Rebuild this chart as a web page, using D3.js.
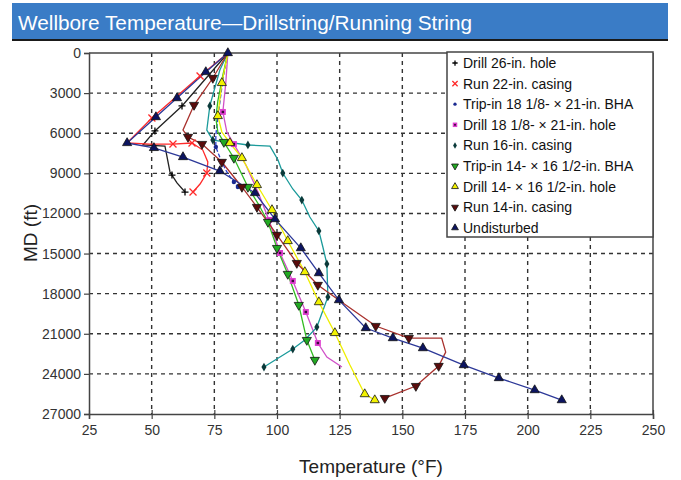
<!DOCTYPE html>
<html><head><meta charset="utf-8">
<script src="https://cdn.jsdelivr.net/npm/d3@7"></script>
<style>
body{margin:0;background:#fff;}
svg{display:block;font-family:"Liberation Sans",Arial,sans-serif;}
</style></head>
<body><svg id="c" width="681" height="480"></svg>
<script>
const xTicks=[25,50,75,100,125,150,175,200,225,250];
const yTicks=[0,3000,6000,9000,12000,15000,18000,21000,24000,27000];

const names=["Drill 26-in. hole","Run 22-in. casing","Trip-in 18 1/8- \u00d7 21-in. BHA","Drill 18 1/8- \u00d7 21-in. hole","Run 16-in. casing","Trip-in 14- \u00d7 16 1/2-in. BHA","Drill 14- \u00d7 16 1/2-in. hole","Run 14-in. casing","Undisturbed"];

const drill26T=[80.4,62.1,51.3,46.5,55.3,57.3,58.1,60.1,63.3];
const drill26D=[0,3960,5830,6880,6960,8900,9130,9720,10400];
const drill26Marked=[1,2,6,8];

const run22T=[80.4,69.3,50.1,40.2,49.3,58.5,66.1,70.4,72.4,72.0,69.3,66.5];
const run22D=[0,1720,4860,6730,6810,6810,6730,7260,8150,8980,9800,10400];
const run22Marked=[1,2,5,6,9,11];

const trip18T=[80.4,78.4,76.8,75.6,75.6,77.6,80.0,82.8,84.4];
const trip18D=[0,2000,4260,6130,7030,8000,8900,9650,10020];
const trip18Marked=[4,7,8];

const drill18T=[80.4,79.6,78.4,80.0,82.8,87.6,92.4,96.8,101.2,106.3,111.5,116.3,119.9,125.9];
const drill18D=[0,2170,4410,5910,6810,8380,10400,12490,14960,17050,19370,21690,22740,23490];
const drill18Marked=[2,4,7,8,9,10,11];

const run16T=[80.4,77.2,73.2,72.0,74.4,88.4,97.2,100.4,102.3,106.3,109.9,113.1,116.7,118.3,119.9,120.3,115.9,111.1,106.3,94.8];
const run16D=[0,1270,3960,5760,6510,6880,6960,8000,8980,10170,11000,12270,13310,14510,15780,18250,20500,21470,22140,23490];
const run16Marked=[2,4,5,8,10,12,14,15,16,18,19];

const trip14T=[80.4,78.4,76.4,75.6,76.4,78.8,82.8,88.4,92.8,96.4,100.0,104.3,108.7,111.9,115.1];
const trip14D=[0,1650,3590,4860,5910,6660,7850,10020,11370,12640,14590,16530,18850,21470,22960];
const trip14Marked=[5,6,7,9,10,11,12,13,14];

const drill14T=[80.4,78.0,76.4,78.0,81.2,86.0,92.0,98.0,104.3,111.1,116.7,123.1,129.1,135.0,139.0];
const drill14D=[0,2240,4710,5910,6730,7850,9870,11740,14060,16380,18630,20940,23340,25510,25960];
const drill14Marked=[1,2,4,5,6,7,8,9,10,11,13,14];

const run14T=[80.4,74.4,66.9,62.5,64.5,70.1,78.0,86.0,92.0,100.0,107.9,116.3,126.3,139.4,152.6,165.7,167.3,164.5,155.4,143.0];
const run14D=[0,1870,3890,5760,6280,6810,8150,10020,11520,13610,15710,17350,18700,20420,21320,21320,22370,23410,24910,25810];
const run14Marked=[1,2,4,5,6,7,8,9,10,11,13,14,17,18,19];

const undistT=[80.4,71.6,60.1,51.7,40.2,50.9,62.5,77.2,91.2,99.2,109.5,116.7,124.7,135.4,146.2,158.2,174.5,188.5,202.8,213.6];
const undistD=[0,1420,3370,4790,6730,7100,7780,8830,10470,12420,14590,16460,18480,20570,21320,22070,23340,24310,25210,25960];
const undistMarked=[0,1,2,3,4,5,6,7,8,9,10,11,12,13,14,15,16,17,18,19];

const seriesT=[drill26T,run22T,trip18T,drill18T,run16T,trip14T,drill14T,run14T,undistT];
const seriesD=[drill26D,run22D,trip18D,drill18D,run16D,trip14D,drill14D,run14D,undistD];
const seriesM=[drill26Marked,run22Marked,trip18Marked,drill18Marked,run16Marked,trip14Marked,drill14Marked,run14Marked,undistMarked];

const lineColors=["#222222","#ff2a2a","#2a3fd0","#d050c8","#1a9a9a","#33bb22","#eeee00","#a8302c","#2c3898"];
const markerKinds=["plus","cross","dot","square","diamond","tridown","triup","tridown","triup"];
const markerFill=["#000","#ff2a2a","#1a2a90","#e040d0","#0b3a3a","#22aa22","#f2f200","#5a0c0c","#0c1460"];
const dashes=[null,null,"4,2",null,null,null,null,null,null];

const svg=d3.select("#c");
// title bar
svg.append("rect").attr("x",12).attr("y",3).attr("width",656).attr("height",37).attr("fill","#3a7cc6");
svg.append("rect").attr("x",12).attr("y",39).attr("width",656).attr("height",2).attr("fill","#1a1a1a");
svg.append("text").attr("x",18).attr("y",30).attr("fill","#fff")
  .style("font-family","'Liberation Sans Narrow','Liberation Sans',Arial,sans-serif")
  .attr("font-size",21).attr("textLength",454).attr("lengthAdjust","spacingAndGlyphs")
  .text("Wellbore Temperature\u2014Drillstring/Running String");

const L=89,R=653,T=53,B=414;
const x=d3.scaleLinear().domain([25,250]).range([L,R]);
const y=d3.scaleLinear().domain([0,27000]).range([T,B]);

// grid
const g=svg.append("g");
g.selectAll(".gx").data(xTicks.slice(1,-1)).join("line")
 .attr("x1",d=>x(d)).attr("x2",d=>x(d)).attr("y1",T).attr("y2",B)
 .attr("stroke","#333").attr("stroke-width",1.4).attr("stroke-dasharray","4,4");
g.selectAll(".gy").data(yTicks.slice(1,-1)).join("line")
 .attr("x1",L).attr("x2",R).attr("y1",d=>y(d)).attr("y2",d=>y(d))
 .attr("stroke","#333").attr("stroke-width",1.4).attr("stroke-dasharray","4,4");

// frame
svg.append("line").attr("x1",L).attr("x2",R).attr("y1",T).attr("y2",T).attr("stroke","#444").attr("stroke-width",1.5);
svg.append("line").attr("x1",R).attr("x2",R).attr("y1",T).attr("y2",B).attr("stroke","#444").attr("stroke-width",1.5);

const ax=svg.append("g").attr("transform",`translate(0,${B})`)
 .call(d3.axisBottom(x).tickValues(xTicks).tickSize(5).tickPadding(6).tickFormat(d3.format("d")));
const ay=svg.append("g").attr("transform",`translate(${L},0)`)
 .call(d3.axisLeft(y).tickValues(yTicks).tickSize(5).tickPadding(3).tickFormat(d3.format("d")));
[ax,ay].forEach(a=>{
  a.select(".domain").attr("stroke","#444").attr("stroke-width",1.5);
  a.selectAll(".tick line").attr("stroke","#444").attr("stroke-width",1.2);
  a.selectAll("text").attr("fill","#333").attr("font-size",14).style("font-family","'Liberation Sans',Arial,sans-serif");
});
ax.selectAll(".tick line").attr("y1",-4);

// axis titles
svg.append("text").attr("x",371).attr("y",473).attr("text-anchor","middle").attr("font-size",19).attr("fill","#222").text("Temperature (\u00b0F)");
svg.append("text").attr("transform","translate(37,233) rotate(-90)").attr("text-anchor","middle").attr("font-size",19).attr("fill","#222").text("MD (ft)");

function drawMarker(sel,kind,fill,cx,cy,scale){
  const s=scale||1;
  if(kind==="plus"){
    sel.append("path").attr("d",`M${cx-3.5*s},${cy}h${7*s}M${cx},${cy-3.5*s}v${7*s}`).attr("stroke",fill).attr("stroke-width",1.3);
  } else if(kind==="cross"){
    sel.append("path").attr("d",`M${cx-3.5*s},${cy-3.5*s}l${7*s},${7*s}M${cx-3.5*s},${cy+3.5*s}l${7*s},${-7*s}`).attr("stroke",fill).attr("stroke-width",1.3);
  } else if(kind==="dot"){
    sel.append("circle").attr("cx",cx).attr("cy",cy).attr("r",2.2*s).attr("fill",fill);
  } else if(kind==="square"){
    sel.append("rect").attr("x",cx-3*s).attr("y",cy-3*s).attr("width",6*s).attr("height",6*s).attr("fill",fill);
    sel.append("rect").attr("x",cx-1.2*s).attr("y",cy-1.2*s).attr("width",2.4*s).attr("height",2.4*s).attr("fill","#3a0a3a");
  } else if(kind==="diamond"){
    sel.append("path").attr("d",d3.symbol(d3.symbolDiamond,22*s*s)()).attr("transform",`translate(${cx},${cy})`).attr("fill",fill);
  } else if(kind==="triup"){
    sel.append("path").attr("d",d3.symbol(d3.symbolTriangle,36*s*s)()).attr("transform",`translate(${cx},${cy})`).attr("fill",fill).attr("stroke","#111").attr("stroke-width",0.8);
  } else if(kind==="tridown"){
    sel.append("path").attr("d",d3.symbol(d3.symbolTriangle,36*s*s)()).attr("transform",`translate(${cx},${cy}) rotate(180)`).attr("fill",fill).attr("stroke","#111").attr("stroke-width",0.8);
  }
}

const line=d3.line().x(d=>x(d[0])).y(d=>y(d[1]));
const plot=svg.append("g");
seriesT.forEach((ts,i)=>{
  const pts=ts.map((t,j)=>[t,seriesD[i][j]]);
  const p=plot.append("path").datum(pts).attr("d",line).attr("fill","none")
    .attr("stroke",lineColors[i]).attr("stroke-width",1.3);
  if(dashes[i]) p.attr("stroke-dasharray",dashes[i]);
});
seriesT.forEach((ts,i)=>{
  const gg=plot.append("g");
  seriesM[i].forEach(j=>{ drawMarker(gg,markerKinds[i],markerFill[i],x(ts[j]),y(seriesD[i][j])); });
});

// legend
const lg=svg.append("g");
lg.append("rect").attr("x",447).attr("y",52).attr("width",206).attr("height",185).attr("fill","#fff").attr("stroke","#444").attr("stroke-width",1.5);
names.forEach((n,i)=>{
  const cy=63+i*20.6;
  drawMarker(lg,markerKinds[i],markerFill[i],455,cy,0.75);
  lg.append("text").attr("x",463).attr("y",cy+5).attr("font-size",14).attr("fill","#111").text(n);
});
</script></body></html>
